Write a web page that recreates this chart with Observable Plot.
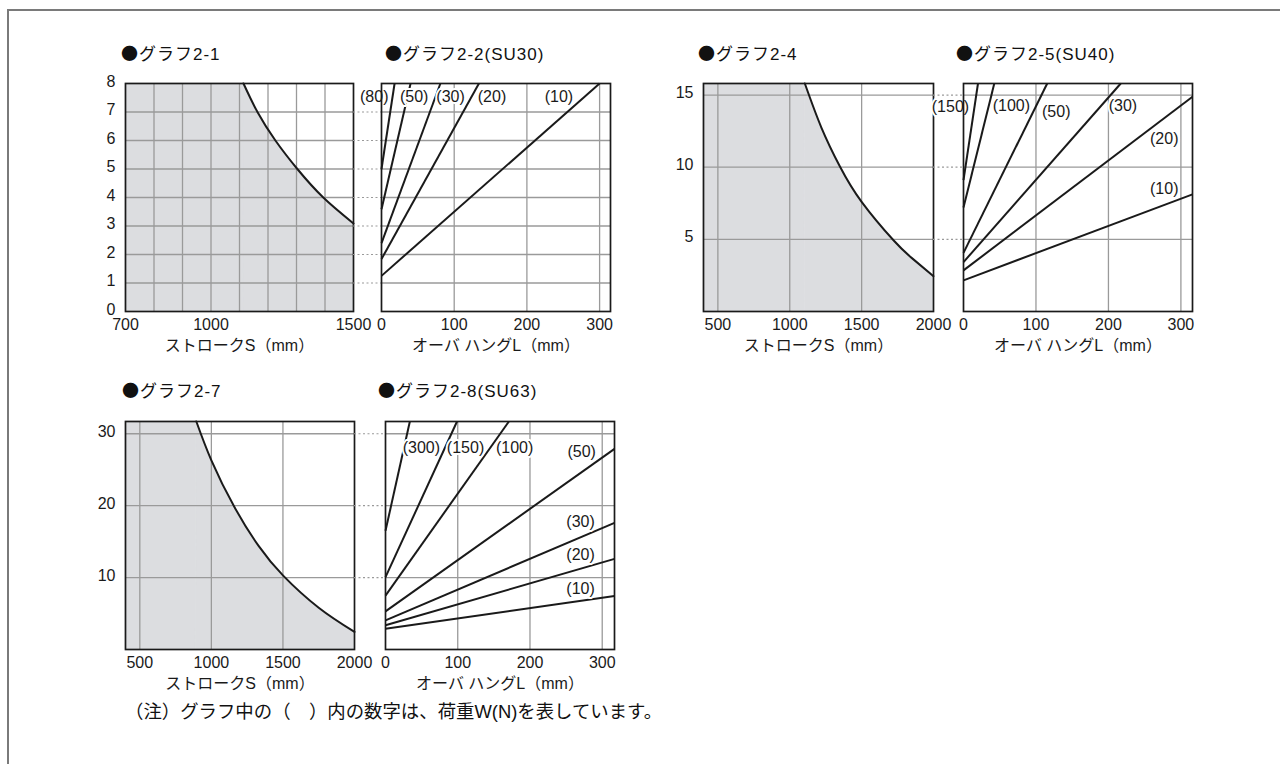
<!DOCTYPE html>
<html><head><meta charset="utf-8">
<script src="https://cdn.jsdelivr.net/npm/d3@7"></script>
<script src="https://cdn.jsdelivr.net/npm/@observablehq/plot@0.6"></script>
<style>
body{margin:0;width:1280px;height:764px;position:relative;background:#fff;font-family:"Liberation Sans","Noto Sans CJK JP",sans-serif;overflow:hidden;color:#111}
#border{position:absolute;left:7px;top:9px;width:1300px;height:800px;border-top:2px solid #7a7a7a;border-left:2px solid #7a7a7a}
.title{position:absolute;font-size:17px;letter-spacing:1px;white-space:nowrap;line-height:18px}
.title .dot{font-family:"Noto Sans CJK JP",sans-serif}
.panel{position:absolute}
.note{position:absolute;left:125px;top:702px;font-size:18.4px;line-height:20px;white-space:nowrap}
</style></head><body>
<div id="border"></div>
<div id="root"></div>
<div class="note">（注）グラフ中の（　）内の数字は、荷重W(N)を表しています。</div>
<script>
// ---------- data ----------
// グラフ2-1 : ストロークS vs 荷重
const g21Stroke = [1114, 1163, 1226, 1303, 1394, 1500];
const g21Load   = [8, 7, 6, 5, 4, 3.09];
const g21XTicks = [700, 1000, 1500];
const g21XGrid  = [800, 900, 1000, 1100, 1200, 1300, 1400];
const g21YTicks = [0, 1, 2, 3, 4, 5, 6, 7, 8];
const g21YGrid  = [1, 2, 3, 4, 5, 6, 7];

// グラフ2-2(SU30) : オーバハングL vs 荷重, W(N)
const g22Weight     = [10, 20, 30, 50, 80];
const g22LoadAtZero = [1.25, 1.84, 2.4, 3.59, 5.0];
const g22EndL       = [300, 134, 81, 40, 18];
const g22EndLoad    = [8, 8, 8, 8, 8];
const g22LabelL     = [244, 152, 95, 45, -10];
const g22LabelLoad  = [7.53, 7.53, 7.53, 7.53, 7.53];
const ovXTicks = [0, 100, 200, 300];
const ovXGrid  = [100, 200, 300];

// グラフ2-4
const g24Stroke = [1105, 1220, 1349, 1500, 1725, 1850, 2000];
const g24Load   = [15.8, 12.75, 10.05, 7.6, 4.9, 3.7, 2.45];
const g24XTicks = [500, 1000, 1500, 2000];
const g24XGrid  = [500, 1000, 1500];
const g24YTicks = [5, 10, 15];

// グラフ2-5(SU40)
const g25Weight     = [10, 20, 30, 50, 100, 150];
const g25LoadAtZero = [2.16, 2.85, 3.42, 4.06, 7.2, 9.1];
const g25EndL       = [316, 316, 217, 115.5, 42.5, 20];
const g25EndLoad    = [8.12, 14.88, 15.8, 15.8, 15.8, 15.8];
const g25LabelL     = [277, 277, 220, 128, 66, -18];
const g25LabelLoad  = [8.49, 11.97, 14.26, 13.8, 14.26, 14.15];

// グラフ2-7
const g27Stroke = [895, 1000, 1161, 1330, 1500, 1750, 2000];
const g27Load   = [31.7, 26.3, 19.8, 14.4, 10.3, 5.8, 2.44];
const g27YTicks = [10, 20, 30];

// グラフ2-8(SU63)
const g28Weight     = [10, 20, 30, 50, 100, 150, 300];
const g28LoadAtZero = [2.9, 3.37, 4.06, 5.3, 7.5, 10.06, 16.5];
const g28EndL       = [317, 317, 317, 317, 170.8, 99, 33.7];
const g28EndLoad    = [7.43, 12.6, 17.6, 27.9, 31.7, 31.7, 31.7];
const g28LabelL     = [270, 270, 270, 271.5, 178.7, 110.8, 49.6];
const g28LabelLoad  = [8.45, 13.2, 17.8, 27.5, 28.06, 28.06, 28.06];

const strokeLabel = "ストロークS（mm）";
const overhangLabel = "オーバ ハングL（mm）";

// ---------- drawing ----------
const FONT = '"Liberation Sans","Noto Sans CJK JP",sans-serif';
const GRAY = "#dcdde0", GRID = "#9a9a9a", INK = "#1a1a1a";
const ML = 50, MR = 30, MT = 20, MB = 50;
const root = document.getElementById("root");

function place(svg, left, top) {
  const d = document.createElement("div");
  d.className = "panel";
  d.style.left = (left - ML) + "px";
  d.style.top = (top - MT) + "px";
  d.appendChild(svg);
  root.appendChild(d);
}
function title(text, left, cy) {
  const d = document.createElement("div");
  d.className = "title";
  const dot = document.createElement("span");
  dot.className = "dot";
  dot.textContent = "●";
  d.appendChild(dot);
  d.appendChild(document.createTextNode(text));
  d.style.left = left + "px";
  d.style.top = (cy - 9) + "px";
  root.appendChild(d);
}
const common = (fw, fh) => ({
  width: ML + fw + MR, height: MT + fh + MB,
  marginLeft: ML, marginRight: MR, marginTop: MT, marginBottom: MB,
  style: {background: "transparent", overflow: "visible", fontFamily: FONT, fontSize: "16px", color: INK}
});

function leftPanel(f, c) {
  const pts = c.stroke.map((s, i) => ({s, w: c.load[i]}));
  const fill = [{a: c.xDomain[0], b: c.stroke[0], lo: c.yDomain[0], hi: c.yDomain[1]}];
  return Plot.plot({
    ...common(f.R - f.L, f.B - f.T),
    x: {domain: c.xDomain}, y: {domain: c.yDomain},
    marks: [
      Plot.rect(fill, {x1: "a", x2: "b", y1: "lo", y2: "hi", fill: GRAY, stroke: GRAY, strokeWidth: 0.6}),
      Plot.areaY(pts, {x: "s", y: "w", curve: "natural", fill: GRAY, stroke: GRAY, strokeWidth: 0.6}),
      Plot.gridX(c.xGrid, {stroke: GRID, strokeOpacity: 1, strokeWidth: 1.3}),
      Plot.gridY(c.yGrid, {stroke: GRID, strokeOpacity: 1, strokeWidth: 1.3}),
      Plot.line(pts, {x: "s", y: "w", curve: "natural", stroke: INK, strokeWidth: 2}),
      Plot.frame({stroke: INK, strokeWidth: 1.7}),
      Plot.axisX({ticks: c.xTicks, tickSize: 0, tickPadding: 7, fontSize: 16, tickFormat: d => String(d), label: null}),
      Plot.axisY({ticks: c.yTicks, tickSize: 0, tickPadding: 10, dy: -2, fontSize: 16, tickFormat: d => String(d), label: null}),
      Plot.text([strokeLabel], {text: d => d, frameAnchor: "bottom", dy: 39, fontSize: 16})
    ]
  });
}

function rightPanel(f, c, gap) {
  const lines = c.weight.map((w, i) => ({w, y0: c.y0[i], ex: c.endL[i], ey: c.endLoad[i]}));
  const labels = c.weight.map((w, i) => ({t: `(${w})`, lx: c.labelL[i], ly: c.labelLoad[i]}));
  return Plot.plot({
    ...common(f.R - f.L, f.B - f.T),
    x: {domain: c.xDomain}, y: {domain: c.yDomain, axis: null},
    marks: [
      Plot.gridX(ovXGrid, {stroke: GRID, strokeOpacity: 1, strokeWidth: 1.3}),
      Plot.gridY(c.yGrid, {stroke: GRID, strokeOpacity: 1, strokeWidth: 1.3}),
      Plot.ruleY(c.yGrid, {x1: 0, x2: 0, insetLeft: -gap, stroke: GRID, strokeWidth: 1.2, strokeDasharray: "2,2.5"}),
      Plot.link(lines, {x1: 0, y1: "y0", x2: "ex", y2: "ey", stroke: INK, strokeWidth: 2}),
      Plot.text(labels, {x: "lx", y: "ly", text: "t", fontSize: 16, fill: INK, stroke: "white", strokeWidth: 4, paintOrder: "stroke"}),
      Plot.frame({stroke: INK, strokeWidth: 1.7}),
      Plot.axisX({ticks: ovXTicks, tickSize: 0, tickPadding: 7, fontSize: 16, tickFormat: d => String(d), label: null}),
      Plot.text([overhangLabel], {text: d => d, frameAnchor: "bottom", dy: 39, fontSize: 16})
    ]
  });
}

// layout (frame edges in page pixels)
const F1 = {L: 125, R: 353, T: 83, B: 311};
const F2 = {L: 381, R: 610, T: 83, B: 311};
const F3 = {L: 703, R: 933, T: 83, B: 311};
const F4 = {L: 963, R: 1192, T: 83, B: 311};
const F5 = {L: 125, R: 354, T: 421, B: 649};
const F6 = {L: 385, R: 614, T: 421, B: 649};

place(leftPanel(F1, {xDomain: [700, 1500], yDomain: [0, 8], stroke: g21Stroke, load: g21Load,
  xTicks: g21XTicks, xGrid: g21XGrid, yTicks: g21YTicks, yGrid: g21YGrid}), F1.L, F1.T);
place(leftPanel(F3, {xDomain: [400, 2000], yDomain: [0, 15.8], stroke: g24Stroke, load: g24Load,
  xTicks: g24XTicks, xGrid: g24XGrid, yTicks: g24YTicks, yGrid: g24YTicks}), F3.L, F3.T);
place(leftPanel(F5, {xDomain: [400, 2000], yDomain: [0, 31.7], stroke: g27Stroke, load: g27Load,
  xTicks: g24XTicks, xGrid: g24XGrid, yTicks: g27YTicks, yGrid: g27YTicks}), F5.L, F5.T);

place(rightPanel(F2, {xDomain: [0, 315], yDomain: [0, 8], yGrid: g21YGrid, weight: g22Weight, y0: g22LoadAtZero,
  endL: g22EndL, endLoad: g22EndLoad, labelL: g22LabelL, labelLoad: g22LabelLoad}, F2.L - F1.R), F2.L, F2.T);
place(rightPanel(F4, {xDomain: [0, 316], yDomain: [0, 15.8], yGrid: g24YTicks, weight: g25Weight, y0: g25LoadAtZero,
  endL: g25EndL, endLoad: g25EndLoad, labelL: g25LabelL, labelLoad: g25LabelLoad}, F4.L - F3.R), F4.L, F4.T);
place(rightPanel(F6, {xDomain: [0, 317], yDomain: [0, 31.7], yGrid: g27YTicks, weight: g28Weight, y0: g28LoadAtZero,
  endL: g28EndL, endLoad: g28EndLoad, labelL: g28LabelL, labelLoad: g28LabelLoad}, F6.L - F5.R), F6.L, F6.T);

title("グラフ2-1", 121, 53);
title("グラフ2-2(SU30)", 385, 53);
title("グラフ2-4", 698, 53);
title("グラフ2-5(SU40)", 956, 53);
title("グラフ2-7", 122, 390);
title("グラフ2-8(SU63)", 378, 390);
</script>
</body></html>
